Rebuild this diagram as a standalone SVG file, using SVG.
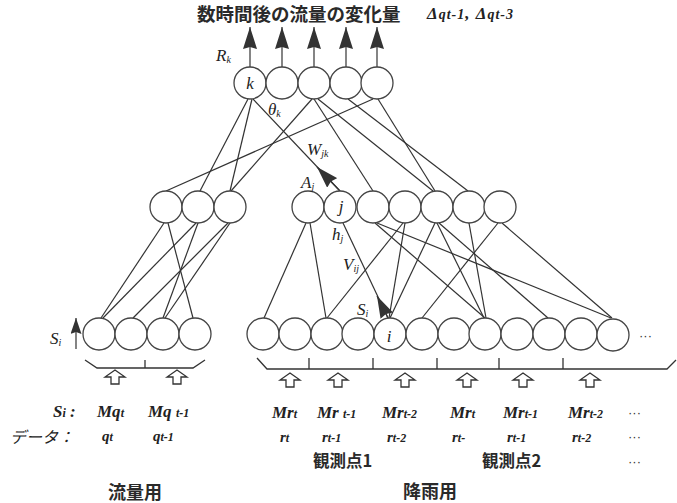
<svg xmlns="http://www.w3.org/2000/svg" width="677" height="503" viewBox="0 0 677 503">
<style>
.n{fill:#fff;stroke:#444;stroke-width:1.3}
.c line,.c path{stroke:#333;stroke-width:1.2;fill:none}
.br{stroke:#333;stroke-width:1.3;fill:none}
.ha{fill:#fff;stroke:#333;stroke-width:1.3}
.lb{font-family:"Liberation Serif",serif;font-style:italic;font-size:17px;fill:#222}
.sub{font-size:10px}
.cjk{font-family:"Noto Sans CJK JP",sans-serif;font-weight:bold;fill:#2a2a2a}
.it{font-family:"Liberation Serif",serif;font-style:italic;font-weight:bold;fill:#222}
.sm{font-size:12px}
.dots{font-family:"Liberation Sans",sans-serif;font-size:13px;fill:#333}
</style>
<defs>
<marker id="ah" viewBox="0 0 22 14" refX="22" refY="7" markerWidth="22" markerHeight="14" markerUnits="userSpaceOnUse" orient="auto"><path d="M0,0 L22,7 L0,14 L2,7 Z" fill="#333"/></marker>
<marker id="ahs" viewBox="0 0 16 11" refX="16" refY="5.5" markerWidth="16" markerHeight="11" markerUnits="userSpaceOnUse" orient="auto"><path d="M0,0 L16,5.5 L0,11 L2,5.5 Z" fill="#333"/></marker>
<path id="hollow" d="M0,-7 L10,0 L4,0 L4,7 L-4,7 L-4,0 L-10,0 Z"/>
</defs>

<!-- title -->
<text class="cjk" x="197" y="21" font-size="18.5">数時間後の流量の変化量</text>
<text class="it" x="427" y="19" font-size="17" letter-spacing="1">Δ<tspan font-size="14">qt-1</tspan>, Δ<tspan font-size="14">qt-3</tspan></text>

<!-- connectors -->
<g id="connectors" class="c">
<!-- output arrows -->
<line x1="250" y1="67" x2="250" y2="27" marker-end="url(#ah)"/>
<line x1="282" y1="67" x2="282" y2="27" marker-end="url(#ah)"/>
<line x1="314" y1="67" x2="314" y2="27" marker-end="url(#ah)"/>
<line x1="346" y1="67" x2="346" y2="27" marker-end="url(#ah)"/>
<line x1="377" y1="67" x2="377" y2="27" marker-end="url(#ah)"/>
<!-- output to hidden -->
<line x1="248" y1="99" x2="200" y2="191"/>
<line x1="252" y1="99" x2="230" y2="191"/>
<line x1="253" y1="99" x2="340" y2="191"/>
<line x1="373" y1="99" x2="166" y2="191"/>
<line x1="312" y1="99" x2="231" y2="191"/>
<line x1="314" y1="99" x2="373" y2="191"/>
<line x1="318" y1="99" x2="433" y2="191"/>
<line x1="378" y1="99" x2="435" y2="191"/>
<line x1="348" y1="99" x2="468" y2="191"/>
<path d="M340,191 L317,167" marker-end="url(#ah)"/>
<!-- hidden to input, left -->
<line x1="164" y1="223" x2="101" y2="318"/>
<line x1="168" y1="223" x2="193" y2="318"/>
<line x1="196" y1="223" x2="103" y2="318"/>
<line x1="198" y1="223" x2="163" y2="318"/>
<line x1="228" y1="223" x2="133" y2="318"/>
<line x1="230" y1="223" x2="165" y2="318"/>
<!-- hidden to input, right -->
<line x1="306" y1="223" x2="264" y2="318"/>
<line x1="310" y1="223" x2="326" y2="318"/>
<line x1="343" y1="223" x2="388" y2="318"/>
<line x1="375" y1="223" x2="485" y2="318"/>
<line x1="377" y1="223" x2="611" y2="318"/>
<line x1="403" y1="223" x2="327" y2="318"/>
<line x1="405" y1="223" x2="389" y2="318"/>
<line x1="435" y1="223" x2="390" y2="318"/>
<line x1="437" y1="223" x2="484" y2="318"/>
<line x1="439" y1="223" x2="548" y2="318"/>
<line x1="469" y1="223" x2="486" y2="318"/>
<line x1="498" y1="223" x2="422" y2="318"/>
<line x1="502" y1="223" x2="612" y2="318"/>
<path d="M388,318 L377,296" marker-end="url(#ah)"/>
<line x1="76" y1="349" x2="76" y2="318" marker-end="url(#ahs)"/>
</g>

<!-- output layer -->
<g id="out1"><circle class="n" cx="250" cy="83" r="16"/><text class="lb" x="250" y="89" text-anchor="middle">k</text></g>
<g id="out2"><circle class="n" cx="282" cy="83" r="16"/></g>
<g id="out3"><circle class="n" cx="314" cy="83" r="16"/></g>
<g id="out4"><circle class="n" cx="346" cy="83" r="16"/></g>
<g id="out5"><circle class="n" cx="377" cy="83" r="16"/></g>

<!-- hidden layer left -->
<g id="lh1"><circle class="n" cx="166" cy="207" r="16"/></g>
<g id="lh2"><circle class="n" cx="198" cy="207" r="16"/></g>
<g id="lh3"><circle class="n" cx="230" cy="207" r="16"/></g>

<!-- hidden layer right -->
<g id="rh1"><circle class="n" cx="308" cy="207" r="16"/></g>
<g id="rh2"><circle class="n" cx="340" cy="207" r="16"/><text class="lb" x="341" y="212" text-anchor="middle">j</text></g>
<g id="rh3"><circle class="n" cx="373" cy="207" r="16"/></g>
<g id="rh4"><circle class="n" cx="405" cy="207" r="16"/></g>
<g id="rh5"><circle class="n" cx="437" cy="207" r="16"/></g>
<g id="rh6"><circle class="n" cx="469" cy="207" r="16"/></g>
<g id="rh7"><circle class="n" cx="500" cy="207" r="16"/></g>

<!-- input layer left -->
<g id="li1"><circle class="n" cx="99" cy="334" r="16"/></g>
<g id="li2"><circle class="n" cx="131" cy="334" r="16"/></g>
<g id="li3"><circle class="n" cx="163" cy="334" r="16"/></g>
<g id="li4"><circle class="n" cx="195" cy="334" r="16"/></g>

<!-- input layer right -->
<g id="ri1"><circle class="n" cx="263" cy="334" r="16"/></g>
<g id="ri2"><circle class="n" cx="295" cy="334" r="16"/></g>
<g id="ri3"><circle class="n" cx="327" cy="334" r="16"/></g>
<g id="ri4"><circle class="n" cx="358" cy="334" r="16"/></g>
<g id="ri5"><circle class="n" cx="390" cy="334" r="16"/><text class="lb" x="389" y="342" text-anchor="middle">i</text></g>
<g id="ri6"><circle class="n" cx="422" cy="334" r="16"/></g>
<g id="ri7"><circle class="n" cx="454" cy="334" r="16"/></g>
<g id="ri8"><circle class="n" cx="485" cy="334" r="16"/></g>
<g id="ri9"><circle class="n" cx="517" cy="334" r="16"/></g>
<g id="ri10"><circle class="n" cx="549" cy="334" r="16"/></g>
<g id="ri11"><circle class="n" cx="581" cy="334" r="16"/></g>
<g id="ri12"><circle class="n" cx="613" cy="335" r="16"/></g>
<text class="dots" x="639" y="340">···</text>

<!-- labels -->
<text class="lb" x="216" y="61" font-size="18">R<tspan class="sub" dy="2">k</tspan></text>
<text class="lb" x="268" y="115">θ<tspan class="sub" dy="2">k</tspan></text>
<text class="lb" x="307" y="155">W<tspan class="sub" dy="2">jk</tspan></text>
<text class="lb" x="301" y="188">A<tspan class="sub" dy="2">j</tspan></text>
<text class="lb" x="332" y="240">h<tspan class="sub" dy="2">j</tspan></text>
<text class="lb" x="343" y="270">V<tspan class="sub" dy="2">ij</tspan></text>
<text class="lb" x="357" y="315">S<tspan class="sub" dy="2">i</tspan></text>
<text class="lb" x="50" y="344">S<tspan class="sub" dy="2">i</tspan></text>

<!-- brackets -->
<g id="bracket-left">
<polyline class="br" points="85,360 97,368 193,368 205,360"/>
<line class="br" x1="145" y1="360" x2="145" y2="368"/>
<use href="#hollow" class="ha" x="115" y="377"/>
<use href="#hollow" class="ha" x="177" y="377"/>
</g>
<g id="bracket-right">
<polyline class="br" points="257,358 267,369 667,369 676,360"/>
<line class="br" x1="309" y1="358" x2="309" y2="369"/>
<line class="br" x1="373" y1="358" x2="373" y2="369"/>
<line class="br" x1="437" y1="358" x2="437" y2="369"/>
<line class="br" x1="499" y1="358" x2="499" y2="369"/>
<line class="br" x1="563" y1="358" x2="563" y2="369"/>
<use href="#hollow" class="ha" x="290" y="380"/>
<use href="#hollow" class="ha" x="338" y="380"/>
<use href="#hollow" class="ha" x="405" y="380"/>
<use href="#hollow" class="ha" x="467" y="380"/>
<use href="#hollow" class="ha" x="523" y="380"/>
<use href="#hollow" class="ha" x="590" y="380"/>
</g>

<!-- bottom rows -->
<text class="it" x="53" y="417" font-size="17">S<tspan class="sm">i</tspan> :</text>
<text class="it" x="97" y="417" font-size="17">Mq<tspan class="sm">t</tspan></text>
<text class="it" x="148" y="417" font-size="17">Mq <tspan class="sm">t-1</tspan></text>
<text x="10" y="443" font-family="Noto Sans CJK JP,sans-serif" font-style="italic" font-size="16" fill="#222">データ：</text>
<text class="it" x="102" y="441" font-size="15">q<tspan class="sm">t</tspan></text>
<text class="it" x="153" y="441" font-size="15">q<tspan class="sm">t-1</tspan></text>

<text class="it" x="272" y="418" font-size="17">Mr<tspan class="sm">t</tspan></text>
<text class="it" x="317" y="418" font-size="17">Mr <tspan class="sm">t-1</tspan></text>
<text class="it" x="382" y="418" font-size="17">Mr<tspan class="sm">t-2</tspan></text>
<text class="it" x="450" y="418" font-size="17">Mr<tspan class="sm">t</tspan></text>
<text class="it" x="503" y="418" font-size="17">Mr<tspan class="sm">t-1</tspan></text>
<text class="it" x="568" y="418" font-size="17">Mr<tspan class="sm">t-2</tspan></text>
<text class="dots" x="628" y="417">···</text>

<text class="it" x="280" y="442" font-size="15">r<tspan class="sm">t</tspan></text>
<text class="it" x="322" y="442" font-size="15">r<tspan class="sm">t-1</tspan></text>
<text class="it" x="387" y="442" font-size="15">r<tspan class="sm">t-2</tspan></text>
<text class="it" x="452" y="442" font-size="15">r<tspan class="sm">t-</tspan></text>
<text class="it" x="507" y="442" font-size="15">r<tspan class="sm">t-1</tspan></text>
<text class="it" x="572" y="442" font-size="15">r<tspan class="sm">t-2</tspan></text>
<text class="dots" x="628" y="441">···</text>

<text class="cjk" x="313" y="467" font-size="16.5">観測点1</text>
<text class="cjk" x="482" y="467" font-size="16.5">観測点2</text>
<text class="dots" x="628" y="466">···</text>

<text class="cjk" x="108" y="499" font-size="18">流量用</text>
<text class="cjk" x="403" y="498" font-size="18">降雨用</text>
</svg>
